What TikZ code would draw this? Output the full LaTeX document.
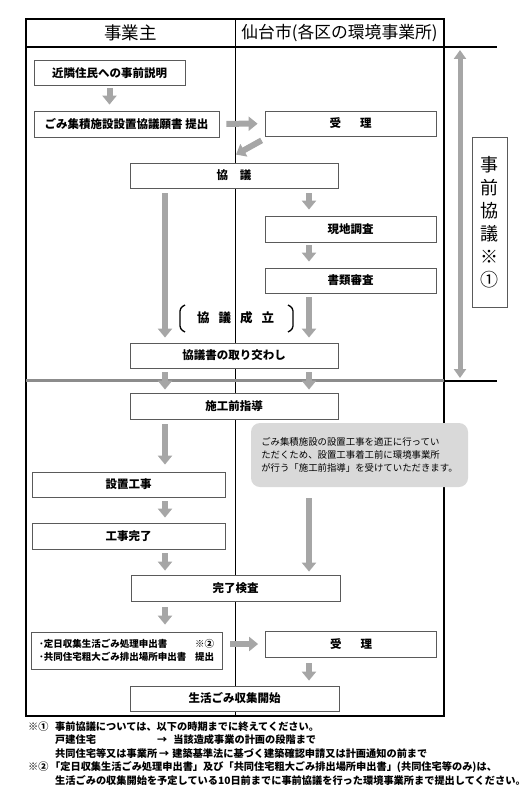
\documentclass[tikz,border=0pt]{standalone}
\usepackage{fontspec}
\setmainfont{Noto Sans CJK JP}
\usetikzlibrary{arrows.meta,calc}

\definecolor{waku}{HTML}{5A5A5A}
\definecolor{yagray}{HTML}{A6A6A6}
\definecolor{sengray}{HTML}{8C8C8C}
\definecolor{fukigray}{HTML}{D9D9D9}

\begin{document}
\begin{tikzpicture}[
    x=1pt,
    y=-1pt,
    font=\fontsize{11.5}{14}\selectfont\bfseries,
    hako/.style={
        draw=waku,
        fill=white,
        line width=0.8pt,
        minimum height=25pt,
        inner sep=0pt,
        align=center
    },
    yajirushi/.style={
        draw=yagray,
        line width=6pt,
        -{Triangle[width=14pt,length=9pt]}
    },
    nagaya/.style={
        draw=yagray,
        line width=5pt,
        {Triangle[width=12pt,length=9pt]}-{Triangle[width=12pt,length=9pt]}
    },
    midashi/.style={
        font=\fontsize{17.5}{20}\selectfont\mdseries
    },
    chushaku/.style={
        anchor=base west,
        inner sep=0pt,
        font=\fontsize{10.2}{13}\selectfont\bfseries
    }
]
    \useasboundingbox (0,0) rectangle (525,800);

    % frame
    \draw[line width=1.2pt] (26,19) rectangle (444,716);
    \draw[line width=1.2pt] (26,47) -- (497,47);
    \draw[line width=1pt] (235,19) -- (235,716);
    \draw[line width=3pt,sengray] (26,380) -- (444,380);
    \draw[line width=1.2pt] (444,381) -- (497,381);

    \node[midashi] (jigyonushi) at (130.5,33) {事業主};
    \node[midashi,font=\fontsize{16.8}{20}\selectfont\mdseries] (sendai) at (339.5,33)
        {仙台市(各区の環境事業所)};

    \coordinate (hidari) at (165,0);
    \coordinate (migi) at (309,0);

    \node[hako,minimum width=151pt] (setsumei) at (109.5,73)
        {近隣住民への事前説明};
    \node[hako,minimum width=185pt,minimum height=26pt] (negaisho) at (126.5,124)
        {ごみ集積施設設置協議願書 提出};
    \node[hako,minimum width=171pt] (juri) at (350.5,123.5)
        {受\hspace{19pt}理};
    \node[hako,minimum width=208pt] (kyogi) at (234,175.5)
        {協\hspace{12pt}議};
    \node[hako,minimum width=171pt,minimum height=26pt] (genchi) at (350.5,229)
        {現地調査};
    \node[hako,minimum width=171pt] (shorui) at (350.5,280.5)
        {書類審査};
    \node[font=\fontsize{12.5}{14}\selectfont\bfseries] (seiritsu) at (235.5,318)
        {協\hspace{9pt}議\hspace{9pt}成\hspace{9pt}立};
    \node[hako,minimum width=208pt] (torikawashi) at (234,355.5)
        {協議書の取り交わし};

    \node[hako,minimum width=208pt,minimum height=26pt] (sekomae) at (234,406)
        {施工前指導};
    \node[hako,minimum width=193pt] (setchi) at (128.5,484.5)
        {設置工事};
    \node[hako,minimum width=193pt,minimum height=26pt] (kanryo) at (128.5,536)
        {工事完了};
    \node[hako,minimum width=209pt,minimum height=26pt] (kensa) at (235.5,588)
        {完了検査};
    \node[
        hako,
        minimum width=191pt,
        minimum height=37pt,
        text width=175pt,
        align=left,
        font=\fontsize{9.5}{13}\selectfont\bfseries
    ] (moushide) at (126.5,650.5)
        {･定日収集生活ごみ処理申出書\hfill ※②\\
         ･共同住宅粗大ごみ排出場所申出書\hfill 提出};
    \node[hako,minimum width=171pt,minimum height=26pt] (juri-2) at (351,644)
        {受\hspace{19pt}理};
    \node[hako,minimum width=209pt] (kaishi) at (234.5,698.5)
        {生活ごみ収集開始};

    % brackets round the agreement
    \draw[line width=1.3pt,rounded corners=3pt]
        (185,305) -- (180,308) -- (180,329) -- (185,332);
    \draw[line width=1.3pt,rounded corners=3pt]
        (288,305) -- (293,308) -- (293,329) -- (288,332);

    % arrows
    \draw[yajirushi,shorten <=2pt,shorten >=6pt]
        (setsumei.south) -- (setsumei.south |- negaisho.north);
    \draw[yajirushi,shorten <=7pt,shorten >=7pt] (negaisho) -- (juri);
    \draw[yajirushi]
        ($(juri.south west)+(-3,4)$) -- ($(kyogi.north)+(2,-8)$);
    \draw[yajirushi,shorten <=5pt,shorten >=5pt]
        (kyogi.south -| hidari) -- (torikawashi.north -| hidari);
    \draw[yajirushi,shorten <=5pt,shorten >=6pt]
        (kyogi.south -| migi) -- (genchi.north -| migi);
    \draw[yajirushi,shorten <=3pt,shorten >=6pt]
        (genchi.south -| migi) -- (shorui.north -| migi);
    \draw[yajirushi,shorten <=4pt,shorten >=5pt]
        (shorui.south -| migi) -- (torikawashi.north -| migi);
    \draw[yajirushi,shorten <=4pt,shorten >=3pt]
        (torikawashi.south -| hidari) -- (sekomae.north -| hidari);
    \draw[yajirushi,shorten <=4pt,shorten >=3pt]
        (torikawashi.south -| migi) -- (sekomae.north -| migi);
    \draw[yajirushi,shorten <=5pt,shorten >=7pt]
        (sekomae.south -| hidari) -- (setchi.north -| hidari);
    \draw[yajirushi,shorten <=4pt,shorten >=5pt]
        (setchi.south -| hidari) -- (kanryo.north -| hidari);
    \draw[yajirushi,shorten <=4pt,shorten >=4pt]
        (kanryo.south -| hidari) -- (kensa.north -| hidari);
    \draw[yajirushi,shorten <=6pt,shorten >=7pt]
        (kensa.south -| hidari) -- (moushide.north -| hidari);
    \draw[yajirushi,shorten <=8pt,shorten >=7pt]
        (juri-2 -| moushide.east) -- (juri-2.west);
    \draw[yajirushi,shorten <=6pt,shorten >=5pt]
        (juri-2.south -| migi) -- (kaishi.north -| migi);

    \node[
        fill=fukigray,
        rounded corners=9pt,
        minimum width=217pt,
        minimum height=64pt,
        align=left,
        font=\fontsize{9.4}{13}\selectfont\mdseries
    ] (fukidashi) at (359.5,455)
        {ごみ集積施設の設置工事を適正に行ってい\\ただくため、設置工事着工前に環境事業所\\が行う「施工前指導」を受けていただきます。};
    \draw[yajirushi,shorten <=11pt,shorten >=3pt]
        (fukidashi.south -| migi) -- (kensa.north -| migi);

    % prior consultation span
    \coordinate (jizen-ue) at (460,47);
    \coordinate (jizen-shita) at (460,381);
    \draw[nagaya,shorten <=3pt,shorten >=3pt] (jizen-ue) -- (jizen-shita);
    \node[
        draw=waku,
        fill=white,
        line width=0.8pt,
        minimum width=35pt,
        minimum height=170pt,
        inner sep=0pt,
        align=center,
        font=\fontsize{18}{23}\selectfont\mdseries
    ] (jizen) at (489.5,222)
        {事\\前\\協\\議\\※\\①};

    % notes
    \node[chushaku] (chu-1) at (28,730)
        {※①\hspace{6.6pt}事前協議については、以下の時期までに終えてください。};
    \node[chushaku] (chu-1a) at (55,743.5)
        {\makebox[102pt][l]{戸建住宅}→\hspace{6pt}当該造成事業の計画の段階まで};
    \node[chushaku] (chu-1b) at (55,757)
        {共同住宅等又は事業所\hspace{2pt}→\hspace{3pt}建築基準法に基づく建築確認申請又は計画通知の前まで};
    \node[chushaku] (chu-2) at (28,770.5)
        {※②\hspace{1.6pt}「定日収集生活ごみ処理申出書」及び「共同住宅粗大ごみ排出場所申出書」(共同住宅等のみ)は、};
    \node[chushaku] (chu-2a) at (55,784)
        {生活ごみの収集開始を予定している10日前までに事前協議を行った環境事業所まで提出してください。};
\end{tikzpicture}
\end{document}
